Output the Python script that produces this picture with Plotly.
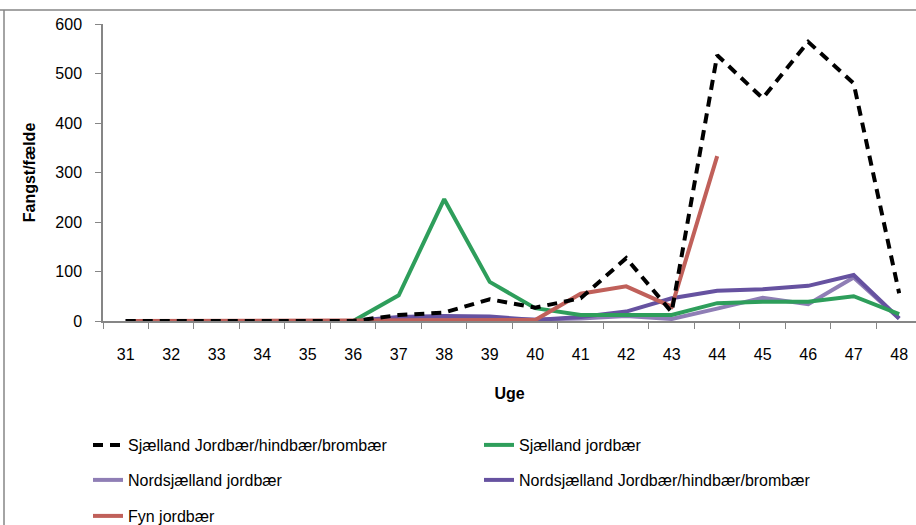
import plotly.graph_objects as go

weeks = [str(w) for w in range(31, 49)]
sj_jhb = [0, 0, 1, 2, 0, 0, 12, 17, 44, 27, 46, 127, 18, 537, 450, 564, 480, 56]
sj_j = [0, 0, 0, 0, 0, 0, 52, 246, 79, 26, 12, 13, 12, 36, 39, 39, 50, 14]
nsj_j = [0, 0, 0, 0, 0, 0, 3, 4, 4, 3, 5, 10, 4, 25, 47, 34, 88, 5]
nsj_jhb = [0, 0, 0, 0, 0, 0, 8, 10, 9, 2, 8, 19, 46, 61, 64, 71, 93, 5]
fyn_j = [0, 0, 0, 0, 0, 0, 0, 0, 0, 2, 55, 70, 29, 333, None, None, None, None]

names = ["Sjælland Jordbær/hindbær/brombær", "Sjælland jordbær",
         "Nordsjælland jordbær", "Nordsjælland Jordbær/hindbær/brombær", "Fyn jordbær"]
colors = ["#000000", "#2E9E5B", "#8F7EB5", "#6652A0", "#C0605A"]
series = [sj_jhb, sj_j, nsj_j, nsj_jhb, fyn_j]
dashes = ["10px,7px", "solid", "solid", "solid", "solid"]
legends = ["legend", "legend", "legend2", "legend2", "legend3"]

FONT = "Liberation Sans, Arial"

fig = go.Figure()
order = [2, 3, 1, 4, 0]
for i in order:
    fig.add_trace(go.Scatter(
        x=weeks, y=series[i], name=names[i], mode="lines",
        line=dict(color=colors[i], width=4, dash=dashes[i]),
        legend=legends[i], legendrank=i, connectgaps=False))

W, H = 916, 525
L, R, T, B = 103, 0, 24, 204
pw = W - L - R
ph = H - T - B

def px(x):
    return (x - L) / pw

def py(y):
    return (H - B - y) / ph

leg_common = dict(orientation="h", xanchor="left", yanchor="middle",
                  font=dict(family=FONT, size=16, color="#000000"),
                  entrywidth=346, entrywidthmode="pixels",
                  bgcolor="rgba(0,0,0,0)", traceorder="normal")

fig.update_layout(
    width=W, height=H,
    margin=dict(l=L, r=R, t=T, b=B, autoexpand=False),
    paper_bgcolor="white", plot_bgcolor="white",
    font=dict(family=FONT, size=16, color="#000000"),
    xaxis=dict(type="category", range=[-0.5, 17.37], tickson="boundaries",
               ticks="outside", ticklen=6, tickcolor="#868686",
               showline=True, linecolor="#868686", linewidth=1.5,
               showgrid=False, zeroline=False, automargin=False,
               ticklabelstandoff=18,
               tickfont=dict(family=FONT, size=16),
               title=dict(text="<b>Uge</b>", font=dict(family=FONT, size=16), standoff=26)),
    yaxis=dict(range=[0, 600], dtick=100, ticks="outside", ticklen=6,
               tickcolor="#868686", showline=True, linecolor="#868686", linewidth=1.5,
               showgrid=False, zeroline=False, automargin=False,
               ticklabelstandoff=10,
               tickfont=dict(family=FONT, size=16),
               title=dict(text="<b>Fangst/fælde</b>", font=dict(family=FONT, size=16), standoff=16)),
    legend=dict(x=px(88), y=py(445), **leg_common),
    legend2=dict(x=px(88), y=py(480), **leg_common),
    legend3=dict(x=px(88), y=py(516), **leg_common),
    shapes=[
        dict(type="line", xref="paper", yref="paper", x0=px(0), x1=px(916), y0=py(10), y1=py(10),
             line=dict(color="#868686", width=1.5)),
        dict(type="line", xref="paper", yref="paper", x0=px(4), x1=px(4), y0=py(10), y1=py(525),
             line=dict(color="#868686", width=1.5)),
    ],
)

fig.write_html("out.html", config={"displayModeBar": False},
               post_script="document.body.style.margin='0';document.body.style.overflow='hidden';")
